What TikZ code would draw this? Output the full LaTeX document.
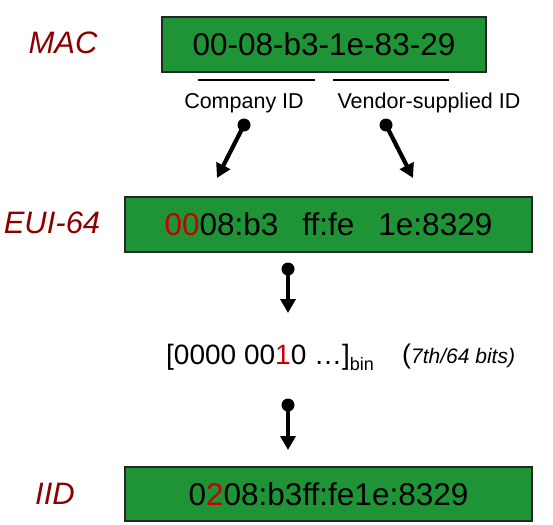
\documentclass[tikz,border=0pt]{standalone}
\usepackage{fontspec}
\setmainfont{Liberation Sans}
\usetikzlibrary{arrows.meta}
\definecolor{boxgreen}{RGB}{30,148,55}
\definecolor{lblred}{RGB}{140,0,0}
\definecolor{hlred}{RGB}{200,0,0}
\tikzset{
  greenbox/.style={draw=black!85, line width=1.8pt, fill=boxgreen, inner sep=0pt,
    font=\fontsize{31.5}{36}\selectfont},
  rowlabel/.style={text=lblred, inner sep=0pt, font=\fontsize{31}{36}\selectfont\itshape},
  partlabel/.style={inner sep=0pt, anchor=base, font=\fontsize{21.5}{26}\selectfont},
  underline/.style={line width=1.2pt},
  pin/.style={line width=4.2pt, -{Triangle[width=15pt,length=14pt]}},
  pindot/.style={fill=black},
}
\begin{document}
\begin{tikzpicture}[x=1pt,y=-1pt]
\useasboundingbox (0,0) rectangle (553,524);

% row labels
\node[rowlabel] (lmac) at (63,43) {MAC};
\node[rowlabel] (leui) at (52,223) {EUI-64};
\node[rowlabel] (liid) at (55,494) {IID};

% boxes
\node[greenbox, minimum width=324pt, minimum height=55pt] (mac) at (324,44.5) {00-08-b3-1e-83-29};
\node[greenbox, minimum width=407pt, minimum height=55pt] (eui) at (328.5,224.5)
  {{\color{hlred}00}08:b3\hspace{24pt}ff:fe\hspace{24pt}1e:8329};
\node[greenbox, minimum width=407pt, minimum height=54pt] (iid) at (328.5,494)
  {0{\color{hlred}2}08:b3ff:fe1e:8329};

% underlines and part labels
\draw[underline] (198,80) -- (315,80);
\draw[underline] (333,80) -- (449,80);
\node[partlabel] (comp) at (244,108) {Company ID};
\node[partlabel] (vend) at (429,108) {Vendor-supplied ID};

% binary line
\node[inner sep=0pt, anchor=base west, font=\fontsize{28}{32}\selectfont] (bin) at (166,364)
  {[0000 00{\color{hlred}1}0 …]\raisebox{-6pt}{\fontsize{18}{20}\selectfont bin}};
\node[inner sep=0pt, anchor=base west] (bits) at (402,363)
  {{\fontsize{27}{30}\selectfont(}{\fontsize{21}{24}\selectfont\itshape 7th/64 bits)}};

% arrow coordinates
\coordinate (d1) at (244,125); \coordinate (t1) at (217,178);
\coordinate (d2) at (386,125); \coordinate (t2) at (413,178);
\coordinate (d3) at (288,269); \coordinate (t3) at (288,313);
\coordinate (d4) at (288,405); \coordinate (t4) at (288,450);

\foreach \a/\b in {d1/t1,d2/t2,d3/t3,d4/t4}{
  \draw[pin] (\a) -- (\b);
  \fill[pindot] (\a) circle (6.5pt);
}
\end{tikzpicture}
\end{document}
